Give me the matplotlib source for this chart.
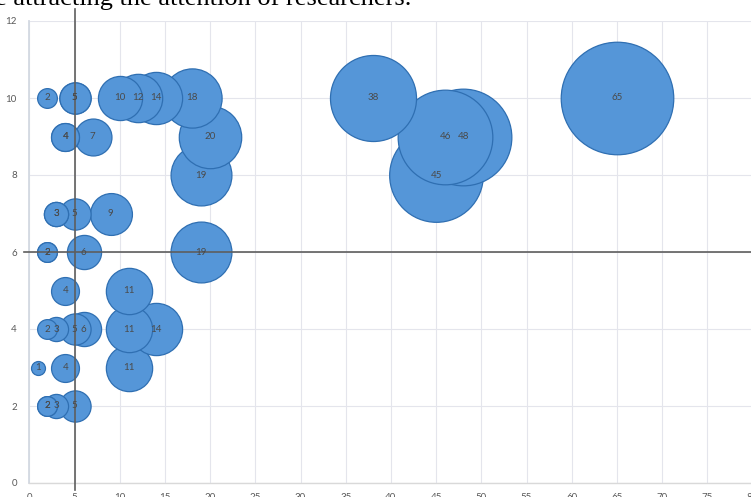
import matplotlib
matplotlib.use("Agg")
import matplotlib.pyplot as plt

# Bubble data: x position, y position, bubble size (label)
xs = [2, 5, 5, 10, 12, 14, 18, 38, 65,
      4, 4, 7, 20, 46, 48,
      19, 45,
      3, 3, 5, 9,
      2, 2, 6, 19,
      4, 11,
      2, 3, 5, 6, 11, 14,
      1, 4, 11,
      2, 2, 3, 5]
ys = [10, 10, 10, 10, 10, 10, 10, 10, 10,
      9, 9, 9, 9, 9, 9,
      8, 8,
      7, 7, 7, 7,
      6, 6, 6, 6,
      5, 5,
      4, 4, 4, 4, 4, 4,
      3, 3, 3,
      2, 2, 2, 2]
sizes = list(xs)

x_ticks = list(range(0, 85, 5))
y_ticks = list(range(0, 14, 2))
cross_x = 5
cross_y = 6
caption = "e attracting the attention of researchers."

W, H = 751, 497
fig = plt.figure(figsize=(W / 100, H / 100), dpi=100)
left_px, right_px, top_px, bot_px = 29.3, 752.5, 21, 483
ax = fig.add_axes([left_px / W, 1 - bot_px / H, (right_px - left_px) / W, (bot_px - top_px) / H])
ax.set_xlim(0, 80)
ax.set_ylim(0, 12)

ax.set_xticks(x_ticks)
ax.set_yticks(y_ticks)
ax.grid(True, color="#E4E5EC", linewidth=0.8, zorder=0)
ax.set_axisbelow(True)
ax.tick_params(length=0, labelsize=7, labelcolor="#595959", pad=7)
ax.tick_params(axis="y", pad=9)
for lab in ax.get_xticklabels() + ax.get_yticklabels():
    lab.set_fontfamily("Lato")
for s in ["top", "right"]:
    ax.spines[s].set_visible(False)
ax.spines["left"].set_color("#D3D9E2")
ax.spines["left"].set_linewidth(1.3)
ax.spines["bottom"].set_color("#D9D9D9")
ax.spines["bottom"].set_linewidth(1.0)

order = sorted(range(len(xs)), key=lambda i: (ys[i], -sizes[i]))
z = 2.0
for i in order:
    ax.scatter([xs[i]], [ys[i]], s=101 * sizes[i], facecolor="#5596D8",
               edgecolor="#2F6FB2", linewidth=0.9, zorder=z, clip_on=False)
    z += 0.01

# crosshair lines
ax.plot([cross_x, cross_x], [-0.18, 12.31], color="#5E5E5E", linewidth=1.2,
        zorder=5, clip_on=False)
ax.plot([-0.59, 81], [cross_y, cross_y], color="#5E5E5E", linewidth=1.2,
        zorder=5, clip_on=False)

for x, y, s in zip(xs, ys, sizes):
    ax.text(x, y, str(s), ha="center", va="center", fontsize=7,
            color="#4A4A4A", family="Lato", zorder=10)

fig.text(411 / W, 1 - 5 / H, caption, ha="right", va="baseline",
         fontsize=19, family="Liberation Serif", color="black")

fig.savefig("out.png", dpi=100)
